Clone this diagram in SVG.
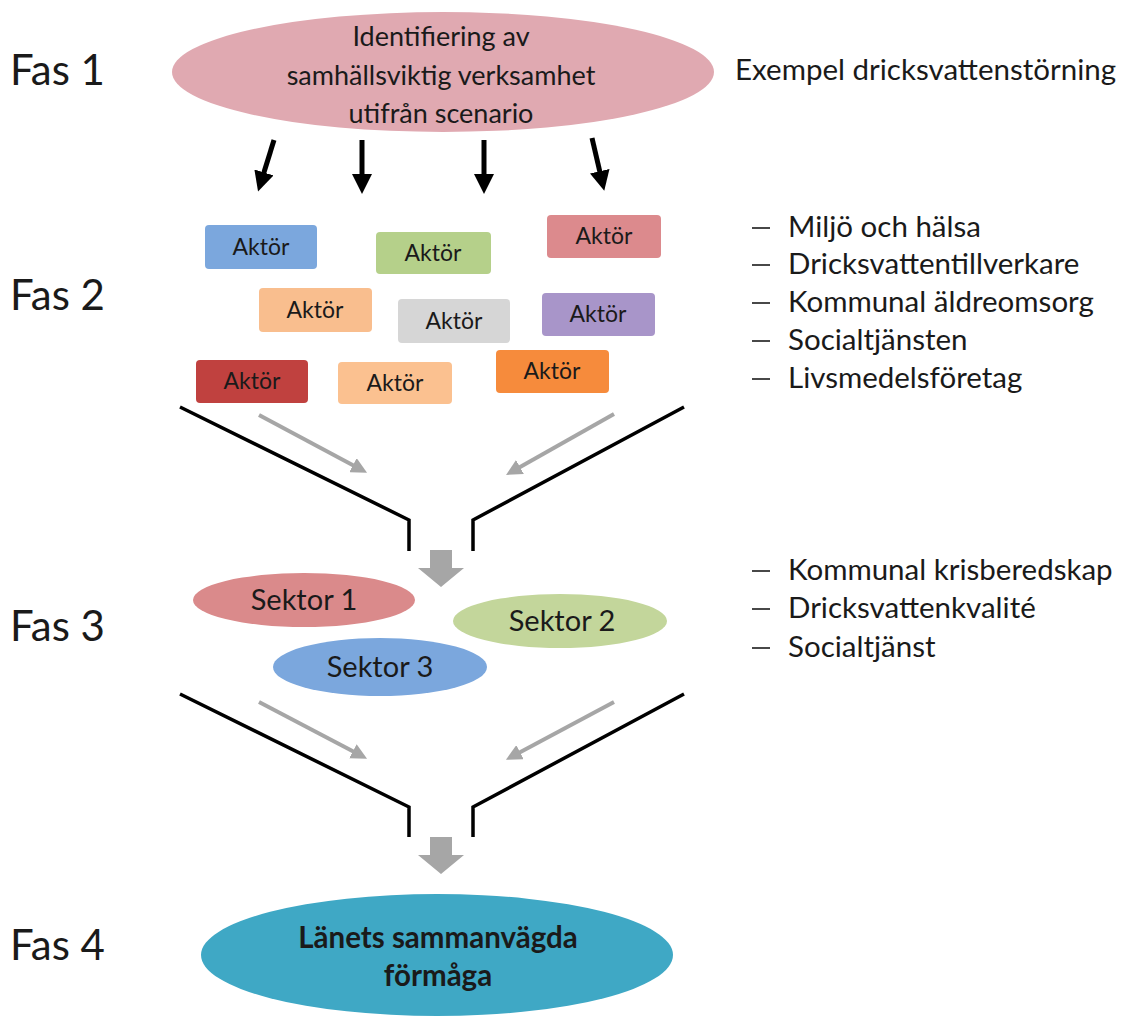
<svg xmlns="http://www.w3.org/2000/svg" width="1123" height="1019" viewBox="0 0 1123 1019">
<style>
text{font-family:Lato,"Open Sans","Liberation Sans",sans-serif;fill:#1a1a1a}
.fas{font-size:42px}
.big{font-size:27px;text-anchor:middle}
.akt{font-size:23px;text-anchor:middle}
.sek{font-size:29px;text-anchor:middle}
.lst{font-size:29.5px}
.fin{font-size:29.5px;font-weight:bold;text-anchor:middle}
.blk{stroke:#000;stroke-width:5;fill:none}
.fun{stroke:#000;stroke-width:3.5;fill:none}
.gry{stroke:#a6a6a6;stroke-width:4;fill:none}
.dash{stroke:#1a1a1a;stroke-width:1.6}
</style>
<defs>
<marker id="ab" markerWidth="4" markerHeight="4" refX="2" refY="2" orient="auto" markerUnits="strokeWidth"><path d="M0,0 L4,2 L0,4 Z" fill="#000"/></marker>
<marker id="ag" markerWidth="4" markerHeight="4" refX="2" refY="2" orient="auto" markerUnits="strokeWidth"><path d="M0,0 L4,2 L0,4 Z" fill="#a6a6a6"/></marker>
</defs>
<rect width="1123" height="1019" fill="#fff"/>
<g id="labels">
<text class="fas" x="10" y="85">Fas 1</text>
<text class="fas" x="10" y="310">Fas 2</text>
<text class="fas" x="10" y="641">Fas 3</text>
<text class="fas" x="10" y="960">Fas 4</text>
<text class="lst" x="735" y="80">Exempel dricksvattenstörning</text>
</g>
<g id="list1">
<line class="dash" x1="752" y1="228" x2="770" y2="228"/><text class="lst" x="788" y="237">Miljö och hälsa</text>
<line class="dash" x1="752" y1="265" x2="770" y2="265"/><text class="lst" x="788" y="274">Dricksvattentillverkare</text>
<line class="dash" x1="752" y1="303" x2="770" y2="303"/><text class="lst" x="788" y="312">Kommunal äldreomsorg</text>
<line class="dash" x1="752" y1="341" x2="770" y2="341"/><text class="lst" x="788" y="350">Socialtjänsten</text>
<line class="dash" x1="752" y1="379" x2="770" y2="379"/><text class="lst" x="788" y="388">Livsmedelsföretag</text>
</g>
<g id="list2">
<line class="dash" x1="752" y1="571" x2="770" y2="571"/><text class="lst" x="788" y="580">Kommunal krisberedskap</text>
<line class="dash" x1="752" y1="609" x2="770" y2="609"/><text class="lst" x="788" y="618">Dricksvattenkvalité</text>
<line class="dash" x1="752" y1="648" x2="770" y2="648"/><text class="lst" x="788" y="657">Socialtjänst</text>
</g>
<g id="fas1">
<ellipse cx="443" cy="72" rx="271" ry="60" fill="#e0a9b1"/>
<text class="big" x="441" y="46">Identifiering av</text>
<text class="big" x="441" y="85">samhällsviktig verksamhet</text>
<text class="big" x="441" y="123">utifrån scenario</text>
</g>
<g id="aktor1"><rect x="205" y="225" width="112" height="44" rx="4" fill="#7ba7dd"/><text class="akt" x="261" y="255">Aktör</text></g>
<g id="aktor2"><rect x="376" y="232" width="115" height="42" rx="4" fill="#b5d08a"/><text class="akt" x="433" y="261">Aktör</text></g>
<g id="aktor3"><rect x="547" y="215" width="114" height="43" rx="4" fill="#dc8a8d"/><text class="akt" x="604" y="244">Aktör</text></g>
<g id="aktor4"><rect x="259" y="288" width="113" height="44" rx="4" fill="#f9be8e"/><text class="akt" x="315" y="318">Aktör</text></g>
<g id="aktor5"><rect x="398" y="299" width="112" height="44" rx="4" fill="#d6d6d6"/><text class="akt" x="454" y="329">Aktör</text></g>
<g id="aktor6"><rect x="542" y="293" width="113" height="43" rx="4" fill="#a895c9"/><text class="akt" x="598" y="322">Aktör</text></g>
<g id="aktor7"><rect x="196" y="360" width="112" height="43" rx="4" fill="#c0413f"/><text class="akt" x="252" y="389">Aktör</text></g>
<g id="aktor8"><rect x="338" y="362" width="114" height="42" rx="4" fill="#fbc190"/><text class="akt" x="395" y="391">Aktör</text></g>
<g id="aktor9"><rect x="496" y="350" width="113" height="43" rx="4" fill="#f68b3c"/><text class="akt" x="552" y="379">Aktör</text></g>
<g id="sektor1"><ellipse cx="304" cy="600" rx="111" ry="27" fill="#da8a8b"/><text class="sek" x="304" y="610">Sektor 1</text></g>
<g id="sektor2"><ellipse cx="560" cy="621" rx="107" ry="27" fill="#c3d69b"/><text class="sek" x="562" y="631">Sektor 2</text></g>
<g id="sektor3"><ellipse cx="380" cy="667" rx="107" ry="29" fill="#7ba7dd"/><text class="sek" x="380" y="677">Sektor 3</text></g>
<g id="fas4"><ellipse cx="437" cy="955" rx="236" ry="61" fill="#3fa8c5"/>
<text class="fin" x="438" y="948">Länets sammanvägda</text>
<text class="fin" x="438" y="986">förmåga</text></g>
<g id="connectors">
<line class="blk" x1="274" y1="140" x2="261" y2="182" marker-end="url(#ab)"/>
<line class="blk" x1="362" y1="140" x2="362" y2="184" marker-end="url(#ab)"/>
<line class="blk" x1="484" y1="140" x2="484" y2="184" marker-end="url(#ab)"/>
<line class="blk" x1="592" y1="138" x2="602" y2="181" marker-end="url(#ab)"/>
<polyline class="fun" points="180,407 409,520 409,551"/>
<polyline class="fun" points="684,407 473,520 473,551"/>
<polyline class="fun" points="180,694 409,807 409,837"/>
<polyline class="fun" points="684,694 473,807 473,837"/>
<line class="gry" x1="259" y1="415" x2="360" y2="469" marker-end="url(#ag)"/>
<line class="gry" x1="614" y1="414" x2="513" y2="471" marker-end="url(#ag)"/>
<line class="gry" x1="259" y1="702" x2="360" y2="755" marker-end="url(#ag)"/>
<line class="gry" x1="614" y1="702" x2="513" y2="756" marker-end="url(#ag)"/>
<polygon points="430,550 452,550 452,568 464,568 441,587 418,568 430,568" fill="#a6a6a6"/>
<polygon points="430,837 452,837 452,855 464,855 441,874 418,855 430,855" fill="#a6a6a6"/>
</g>
</svg>
